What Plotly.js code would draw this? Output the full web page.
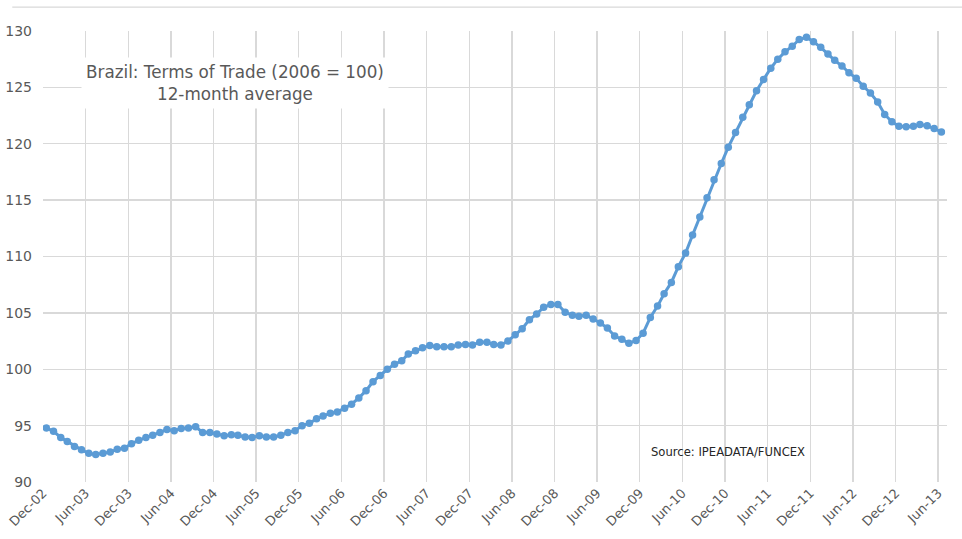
<!DOCTYPE html>
<html>
<head>
<meta charset="utf-8">
<script src="https://cdn.plot.ly/plotly-3.0.1.min.js"></script>
<style>
  html, body { margin: 0; padding: 0; background: #ffffff; }
  #chart { width: 962px; height: 539px; }
</style>
</head>
<body>
<div id="chart"></div>
<script>
// Brazil terms of trade index (2006 = 100), 12-month average, monthly Dec-2002 .. Jun-2013
const startYear = 2002;
const startMonth = 12;

const termsOfTrade = [
  94.8, 94.5, 93.95, 93.6, 93.15, 92.85, 92.55, 92.45, 92.55, 92.65, 92.9, 93.0,
  93.4, 93.7, 93.95, 94.15, 94.4, 94.65, 94.55, 94.75, 94.8, 94.9, 94.4, 94.4,
  94.25, 94.1, 94.2, 94.15, 94.0, 93.95, 94.1, 94.0, 94.0, 94.15, 94.4, 94.55,
  95.0, 95.2, 95.6, 95.85, 96.1, 96.2, 96.55, 96.9, 97.45, 98.1, 98.9, 99.45,
  100.0, 100.45, 100.75, 101.35, 101.65, 101.9, 102.1, 102.0, 102.0, 102.0, 102.15, 102.2,
  102.15, 102.4, 102.4, 102.2, 102.15, 102.5, 103.05, 103.6, 104.4, 104.9, 105.5, 105.75,
  105.75, 105.05, 104.8, 104.7, 104.8, 104.45, 104.1, 103.65, 102.95, 102.65, 102.3, 102.55,
  103.2, 104.6, 105.6, 106.7, 107.7, 109.1, 110.3, 111.9, 113.5, 115.2, 116.8, 118.25,
  119.7, 121.0, 122.35, 123.45, 124.7, 125.7, 126.7, 127.5, 128.15, 128.65, 129.25, 129.45,
  129.05, 128.55, 127.95, 127.4, 126.9, 126.3, 125.8, 125.1, 124.5, 123.7, 122.6, 121.95,
  121.55, 121.5, 121.55, 121.7, 121.6, 121.35, 121.05
];

const tickLabels = [
  "Dec-02", "Jun-03", "Dec-03", "Jun-04", "Dec-04", "Jun-05", "Dec-05", "Jun-06",
  "Dec-06", "Jun-07", "Dec-07", "Jun-08", "Dec-08", "Jun-09", "Dec-09", "Jun-10",
  "Dec-10", "Jun-11", "Dec-11", "Jun-12", "Dec-12", "Jun-13"
];

const yTicks = [90, 95, 100, 105, 110, 115, 120, 125, 130];

const chartTitle = "Brazil: Terms of Trade (2006 = 100)<br>12-month average";
const sourceNote = "Source: IPEADATA/FUNCEX";

// monthly observations sit mid-month; category ticks sit on the 1st
const pad2 = n => String(n).padStart(2, "0");
const months = termsOfTrade.map((_, k) => {
  const m0 = (startMonth - 1) + k;
  return `${startYear + Math.floor(m0 / 12)}-${pad2(m0 % 12 + 1)}-15`;
});
const monthIndex = {Jan:1, Feb:2, Mar:3, Apr:4, May:5, Jun:6, Jul:7, Aug:8, Sep:9, Oct:10, Nov:11, Dec:12};
const tickVals = tickLabels.map(t => {
  const [mon, yy] = t.split("-");
  return `20${yy}-${pad2(monthIndex[mon])}-01`;
});

const trace = {
  type: "scatter",
  mode: "lines+markers",
  x: months,
  y: termsOfTrade,
  line: { color: "#5B9BD5", width: 3 },
  marker: { color: "#5B9BD5", size: 7.5 },
  hoverinfo: "x+y",
  showlegend: false
};

const FONT = "DejaVu Sans, sans-serif";

const layout = {
  width: 962,
  height: 539,
  margin: { l: 43, r: 15, t: 31, b: 57, pad: 0 },
  paper_bgcolor: "#ffffff",
  plot_bgcolor: "#ffffff",
  xaxis: {
    type: "date",
    range: ["2002-12-01", "2013-07-09"],
    tickmode: "array",
    tickvals: tickVals,
    ticktext: tickLabels,
    tickangle: -45,
    tickfont: { family: FONT, size: 13, color: "#595959" },
    showgrid: true,
    gridcolor: "#D9D9D9",
    gridwidth: 1.3,
    zeroline: false,
    showline: false,
    ticks: ""
  },
  yaxis: {
    range: [90, 130],
    tickmode: "array",
    tickvals: yTicks,
    ticktext: yTicks.map(String),
    tickfont: { family: FONT, size: 14, color: "#595959" },
    ticklabelstandoff: 10,
    showgrid: true,
    gridcolor: "#D9D9D9",
    gridwidth: 1.3,
    zeroline: false,
    showline: false,
    ticks: ""
  },
  shapes: [
    {
      type: "line", xref: "paper", yref: "paper",
      x0: -0.034, x1: 1.02, y0: 1.053, y1: 1.053,
      line: { color: "#D9D9D9", width: 1.3 }
    }
  ],
  annotations: [
    {
      text: chartTitle,
      xref: "paper", yref: "paper",
      x: 0.2124, y: 0.8847,
      xanchor: "center", yanchor: "middle",
      showarrow: false,
      align: "center",
      bgcolor: "#ffffff",
      borderpad: 4,
      font: { family: FONT, size: 16.8, color: "#595959" }
    },
    {
      text: sourceNote,
      xref: "paper", yref: "paper",
      x: 0.670, y: 0.0665,
      xanchor: "left", yanchor: "middle",
      showarrow: false,
      font: { family: FONT, size: 11.6, color: "#262626" }
    }
  ]
};

Plotly.newPlot("chart", [trace], layout, { displayModeBar: false, staticPlot: true });
</script>
</body>
</html>
